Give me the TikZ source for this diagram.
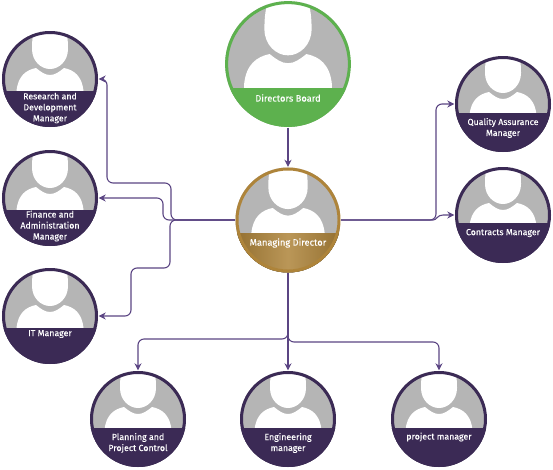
\documentclass[tikz,border=0pt]{standalone}
\usepackage{fontspec}
\newfontfamily\lblfont[FakeBold=0.1]{Fira Sans}
\usetikzlibrary{arrows.meta}
\definecolor{vcpurple}{HTML}{3B2A55}
\definecolor{vcline}{HTML}{5B4583}
\definecolor{vcgreen}{HTML}{5DB14E}
\definecolor{vcgold}{HTML}{AE843A}
\definecolor{vcgray}{HTML}{B5B5B5}
\tikzset{
  band vcpurple/.style={fill=vcpurple},
  band vcgreen/.style={fill=vcgreen},
  band vcgold/.style={left color=vcgold!85!black, right color=vcgold!85!black, middle color=vcgold!85!white},
}
% #1 name, #2 #3 centre, #4 scale, #5 colour, #6 top of band, #7 shift of the figure
\newcommand{\persondisc}[7]{
  \begin{scope}[shift={(#2,#3)}, scale=#4]
    \begin{scope}
      \clip (0,0) circle (48);
      \fill[vcgray] (-48,-48) rectangle (48,48);
      \begin{scope}[shift={(0,#7)}]
        \fill[white] (-18,-30) .. controls (-18,-40) and (-17,-46) .. (-15,-52)
          -- (15,-52) .. controls (17,-46) and (18,-40) .. (18,-30)
          .. controls (18,-18) and (9,-10) .. (0,-10)
          .. controls (-9,-10) and (-18,-18) .. (-18,-30) -- cycle;
        \fill[white] (-33.5,45) -- (-33.5,12)
          .. controls (-32,-3) and (-24,-9) .. (-14,-11)
          .. controls (-9,-7) and (-5,-4) .. (0,-4)
          .. controls (5,-4) and (9,-7) .. (14,-11)
          .. controls (24,-9) and (32,-3) .. (33.5,12)
          -- (33.5,45) -- cycle;
      \end{scope}
      \fill[band #5] (-48,#6) rectangle (48,48);
    \end{scope}
  \end{scope}
  \node[disc, draw=#5, minimum size={(96*#4-3)*1pt}] (#1) at (#2,#3) {};
}
\begin{document}
\begin{tikzpicture}[
  x=1pt, y=-1pt,
  disc/.style={circle, line width=3pt, inner sep=0pt, outer sep=2.2pt},
  lbl/.style={font=\lblfont\fontsize{8.8}{11}\selectfont, text=white, align=center, inner sep=0pt},
  biglbl/.style={lbl, font=\lblfont\fontsize{9.3}{11}\selectfont},
  link/.style={-{Stealth[length=7pt, width=7pt]}, line width=1.1pt, vcline, rounded corners=6pt},
]
\useasboundingbox (0,0) rectangle (553,469);

%% ---- people ----
\persondisc{board}{288}{64}{1.31}{vcgreen}{18.3}{3.4}
\persondisc{md}{288}{220}{1.094}{vcgold}{12}{0}
\persondisc{rd}{50}{79}{1}{vcpurple}{12}{0}
\persondisc{fin}{50}{198}{1}{vcpurple}{12}{0}
\persondisc{it}{50}{316}{1}{vcpurple}{12}{0}
\persondisc{qa}{503}{104}{1}{vcpurple}{9}{-1}
\persondisc{cm}{503}{215}{1}{vcpurple}{8}{-1}
\persondisc{pc}{138}{419}{1}{vcpurple}{9}{-1}
\persondisc{em}{288}{419}{1}{vcpurple}{9}{-1}
\persondisc{pm}{439}{419}{1}{vcpurple}{9}{-1}

%% ---- labels ----
\node[biglbl] (boardlbl) at (288,98) {Directors Board};
\node[biglbl] (mdlbl) at (288,243) {Managing Director};
\node[lbl] (rdlbl) at (50,108) {Research and\\Development\\Manager};
\node[lbl] (finlbl) at (50,226) {Finance and\\Administration\\Manager};
\node[lbl] (itlbl) at (50,334) {IT Manager};
\node[lbl] (qalbl) at (503,128) {Quality Assurance\\Manager};
\node[lbl] (cmlbl) at (503,233) {Contracts Manager};
\node[lbl] (pclbl) at (138,443) {Planning and\\Project Control};
\node[lbl] (emlbl) at (288,443) {Engineering\\manager};
\node[lbl] (pmlbl) at (439,437) {project manager};

%% ---- connectors ----
\draw[link] (board) -- (md);

% left side
\draw[link] (md.west) -- (171,220) -- (171,183) -- (107,183) -- (107,79) -- (rd.east);
\draw[link] (md.west) -- (163,220) -- (163,198) -- (fin.east);
\draw[link] (md.west) -- (170,220) -- (170,268) -- (131,268) -- (131,316) -- (it.east);

% right side
\draw[link] (md.east) -- (436,220) -- (436,104) -- (qa.west);
\draw[link, rounded corners=0pt] (md.east) -- (433,220) .. controls (437,220) and (437,215) .. (443,215) -- (cm.west);

% bottom row
\draw[link] (md.south) -- (288,339) -- (138,339) -- (pc.north);
\draw[link] (md.south) -- (em.north);
\draw[link] (md.south) -- (288,342) -- (439,342) -- (pm.north);

\end{tikzpicture}
\end{document}
